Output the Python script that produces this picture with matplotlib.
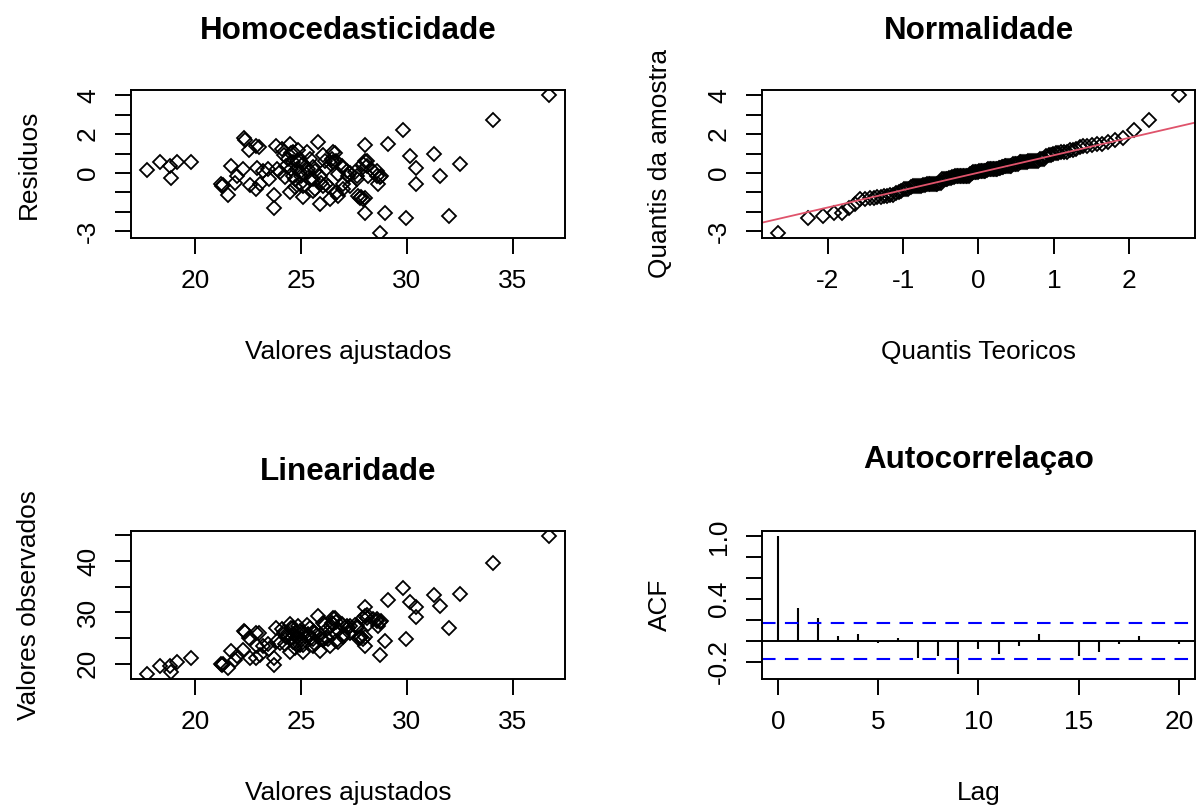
import matplotlib
matplotlib.use("Agg")
import matplotlib.pyplot as plt
import numpy as np
from statistics import NormalDist

# ---------------- data ----------------
fitted = [17.75, 18.35, 18.82, 19.14, 18.90, 19.84, 21.23, 21.30, 21.33, 21.57,
          21.73, 21.89, 22.01, 22.26, 22.30, 22.35, 22.56, 22.60, 22.88, 23.04,
          22.93, 23.08, 22.88, 23.20, 23.46, 23.74, 23.74, 23.82, 23.90, 23.50,
          24.00, 24.09, 24.20, 24.25, 24.32, 24.48, 24.48, 24.56, 24.56, 24.64,
          24.64, 24.64, 24.72, 24.72, 24.80, 24.80, 24.87, 24.95, 24.95, 24.95,
          25.03, 25.08, 25.11, 25.11, 25.27, 25.35, 25.35, 25.42, 25.50, 25.58,
          25.58, 25.58, 25.66, 25.66, 25.82, 25.90, 25.90, 25.97, 26.05, 26.05,
          26.13, 26.21, 26.21, 26.29, 26.37, 26.45, 26.53, 26.53, 26.60, 26.68,
          26.68, 26.76, 26.76, 26.92, 26.92, 27.00, 27.00, 27.16, 27.23, 27.31,
          27.31, 27.55, 27.63, 27.63, 27.71, 27.78, 27.85, 27.91, 28.02, 27.94,
          28.02, 28.02, 28.10, 28.10, 28.18, 28.02, 28.41, 28.57, 28.57, 28.65,
          28.73, 28.80, 28.73, 28.96, 29.12, 29.80, 29.95, 30.17, 30.45, 30.45,
          31.27, 31.56, 31.98, 32.50, 34.04, 36.70, 24.40, 26.40]

residuals = [0.14, 0.57, 0.36, 0.57, -0.28, 0.57, -0.57, -0.68, -0.62, -1.14,
             0.35, -0.52, -0.17, 0.21, 1.80, 1.72, 1.16, -0.62, 1.41, 1.33,
             0.24, -0.57, -0.83, 0.12, 0.21, -1.14, -1.81, 1.41, 0.21, -0.31,
             0.03, 1.24, 0.90, -0.22, 0.38, 1.50, -1.00, 0.21, 1.05, 1.07,
             -0.14, 0.54, -0.74, -0.33, 0.64, 0.19, 1.16, 0.03, -0.57, 0.62,
             -0.16, -0.67, -1.26, 0.47, 1.07, 0.03, 0.19, 0.73, -0.24, 0.29,
             -0.31, -0.93, 0.10, -0.83, 1.59, -1.61, -0.14, -0.50, 0.90, -0.66,
             0.62, 0.19, -0.57, -0.67, -1.35, 0.71, 1.07, 0.54, 1.05, 0.64,
             -1.02, -0.07, -1.17, 0.29, 0.36, -0.59, -0.83, 0.12, -0.14, 0.02,
             -0.66, 0.03, -0.16, -0.31, -1.19, -1.28, -1.22, -1.36, -1.30, 0.47,
             1.42, 0.62, 0.36, 0.64, -0.16, -2.04, 0.12, 0.10, -0.14, -0.59,
             -0.22, -0.16, -3.07, -2.04, 1.50, 2.22, -2.32, 0.88, 0.24, -0.57,
             0.97, -0.16, -2.23, 0.45, 2.75, 3.99, 0.70, 0.45]

observed = [18.1, 19.6, 19.6, 20.4, 18.3, 21.1, 20.0, 19.8, 20.0, 19.1,
            22.5, 20.8, 21.6, 22.7, 26.3, 26.1, 25.1, 21.2, 26.0, 26.0,
            23.5, 21.8, 21.1, 23.5, 23.9, 21.2, 19.8, 26.9, 24.4, 22.8,
            24.1, 26.8, 26.2, 23.8, 25.2, 27.8, 22.3, 25.0, 26.9, 27.0,
            24.3, 25.8, 23.1, 24.0, 26.2, 25.2, 27.4, 25.0, 23.7, 26.3,
            24.7, 23.6, 22.3, 26.1, 27.6, 25.4, 25.8, 27.0, 25.0, 26.2,
            24.9, 23.5, 25.9, 23.8, 29.3, 22.4, 25.6, 24.9, 28.0, 24.6,
            27.5, 26.6, 25.0, 24.8, 23.4, 28.0, 28.9, 27.7, 28.9, 28.1,
            24.4, 26.6, 24.2, 27.6, 27.7, 25.7, 25.2, 27.4, 26.9, 27.4,
            25.9, 27.6, 27.3, 27.0, 25.1, 25.0, 25.2, 24.9, 25.2, 29.0,
            31.1, 29.4, 28.9, 29.5, 27.8, 23.5, 28.7, 28.8, 28.3, 27.4,
            28.2, 28.4, 21.8, 24.5, 32.4, 34.7, 24.9, 32.1, 31.0, 29.2,
            33.4, 31.2, 26.9, 33.5, 39.7, 44.8, 25.9, 27.4]

acf_lags = list(range(21))
acf_values = [1.0, 0.315, 0.22, 0.048, 0.067, -0.025, 0.025, -0.162, -0.146, -0.315,
              -0.083, -0.124, -0.048, 0.067, 0.004, -0.146, -0.105, -0.029, 0.048,
              -0.004, -0.029]

res_ticks = [-3, -2, -1, 0, 1, 2, 3, 4]
res_labels = ['-3', '', '', '0', '', '2', '', '4']
fit_ticks = [20, 25, 30, 35]
fit_labels = ['20', '25', '30', '35']
qq_ticks = [-2, -1, 0, 1, 2]
qq_labels = ['-2', '-1', '0', '1', '2']
obs_ticks = [20, 25, 30, 35, 40, 45]
obs_labels = ['20', '', '30', '', '40', '']
acf_yticks = [-0.2, 0.0, 0.2, 0.4, 0.6, 0.8, 1.0]
acf_ylabels = ['-0.2', '', '', '0.4', '', '', '1.0']
lag_ticks = [0, 5, 10, 15, 20]
lag_labels = ['0', '5', '10', '15', '20']

# ---------------- style ----------------
plt.rcParams['font.family'] = ['Liberation Sans', 'DejaVu Sans']
W, H = 1197, 807
LAB = 18.9
TIT = 22.6
LW = 1.4

fig = plt.figure(figsize=(W / 100, H / 100), dpi=100)


def rlim(lo, hi):
    d = hi - lo
    return lo - 0.04 * d, hi + 0.04 * d


def make_ax(l, t, r, b):
    ax = fig.add_axes([l / W, 1 - b / H, (r - l) / W, (b - t) / H])
    for s in ax.spines.values():
        s.set_linewidth(LW)
    ax.tick_params(direction='out', length=11.3, width=LW, pad=11,
                   labelsize=LAB)
    return ax


def set_ticks(ax, xt, xl, yt, yl):
    ax.set_xticks(xt, xl)
    ax.set_yticks(yt, yl)
    for lbl in ax.get_yticklabels():
        lbl.set_rotation(90)
        lbl.set_va('center')
        lbl.set_ha('right')


def labels(l, t, r, b, title, xlabel, ylabel, title_base):
    cx = (l + r) / 2 / W
    fig.text(cx, 1 - title_base / H, title, ha='center', va='baseline',
             fontsize=TIT, fontweight='bold')
    fig.text(cx, 1 - (b + 121) / H, xlabel, ha='center', va='baseline',
             fontsize=LAB)
    fig.text((l - 95) / W, 1 - (t + b) / 2 / H, ylabel, rotation=90,
             rotation_mode='anchor', ha='center', va='baseline', fontsize=LAB)


mk = dict(ls='none', marker='D', ms=6.9, mfc='none', mec='black', mew=1.3)

# ---- Homocedasticidade ----
box = (131, 90, 565, 238)
ax1 = make_ax(*box)
ax1.plot(fitted, residuals, **mk)
ax1.set_xlim(*rlim(min(fitted), max(fitted)))
ax1.set_ylim(*rlim(min(residuals), max(residuals)))
set_ticks(ax1, fit_ticks, fit_labels, res_ticks, res_labels)
labels(*box, 'Homocedasticidade', 'Valores ajustados', 'Residuos', 39)

# ---- Normalidade ----
box = (762, 90, 1195, 238)
ax2 = make_ax(*box)
n = len(residuals)
nd = NormalDist()
theo = [nd.inv_cdf((i + 0.5) / n) for i in range(n)]
samp = sorted(residuals)
ax2.plot(theo, samp, **mk)
q1, q3 = np.quantile(residuals, [0.25, 0.75])
x1, x3 = nd.inv_cdf(0.25), nd.inv_cdf(0.75)
ax2.axline((x1, q1), (x3, q3), color='#DF536B', lw=1.3)
ax2.set_xlim(*rlim(min(theo), max(theo)))
ax2.set_ylim(*rlim(min(samp), max(samp)))
set_ticks(ax2, qq_ticks, qq_labels, res_ticks, res_labels)
labels(*box, 'Normalidade', 'Quantis Teoricos', 'Quantis da amostra', 39)

# ---- Linearidade ----
box = (131, 531, 565, 679)
ax3 = make_ax(*box)
ax3.plot(fitted, observed, **mk)
ax3.set_xlim(*rlim(min(fitted), max(fitted)))
ax3.set_ylim(*rlim(min(observed), max(observed)))
set_ticks(ax3, fit_ticks, fit_labels, obs_ticks, obs_labels)
labels(*box, 'Linearidade', 'Valores ajustados', 'Valores observados', 480)

# ---- Autocorrelaçao ----
box = (762, 531, 1195, 679)
ax4 = make_ax(*box)
clim = 1.96 / np.sqrt(n)
ax4.vlines(acf_lags, 0, acf_values, color='black', lw=1.5)
ax4.axhline(0, color='black', lw=1.4)
for c in (clim, -clim):
    ax4.axhline(c, color='#0000FF', lw=1.5, dashes=(6.5, 4.5))
ax4.set_xlim(*rlim(min(acf_lags), max(acf_lags)))
ax4.set_ylim(*rlim(min(min(acf_values), -clim), max(max(acf_values), clim)))
set_ticks(ax4, lag_ticks, lag_labels, acf_yticks, acf_ylabels)
labels(*box, 'Autocorrelaçao', 'Lag', 'ACF', 468)

fig.savefig('out.png', dpi=100)
